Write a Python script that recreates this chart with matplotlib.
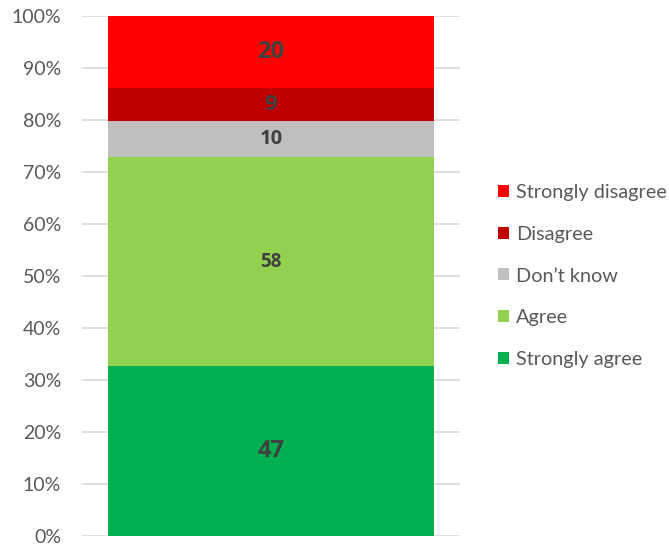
import matplotlib
matplotlib.use("Agg")
import matplotlib.pyplot as plt
from matplotlib.patches import Patch
from matplotlib.ticker import FuncFormatter

categories = ["Strongly agree", "Agree", "Don\u2019t know", "Disagree", "Strongly disagree"]
counts = [47, 58, 10, 9, 20]
colors = ["#00B050", "#92D050", "#BFBFBF", "#C00000", "#FF0000"]
label_sizes = [17, 13.5, 14.5, 16, 17]
tick_values = [0, 0.1, 0.2, 0.3, 0.4, 0.5, 0.6, 0.7, 0.8, 0.9, 1.0]

plt.rcParams["font.family"] = ["Lato", "DejaVu Sans"]

fig = plt.figure(figsize=(6.69, 5.46), dpi=100)
ax = fig.add_axes([82 / 669, 1 - 536 / 546, 378 / 669, 520 / 546])

total = sum(counts)
bottom = 0.0
for name, c, col, fs in zip(categories, counts, colors, label_sizes):
    h = c / total
    ax.bar(0, h, bottom=bottom, width=0.862, color=col, zorder=2)
    ax.text(0, bottom + h / 2, str(c), ha="center", va="center",
            fontsize=fs, fontweight="bold", family=["Open Sans", "DejaVu Sans"],
            color="#404040", zorder=3)
    bottom += h

ax.set_xlim(-0.5, 0.5)
ax.set_ylim(0, 1)
ax.set_yticks(tick_values)
ax.yaxis.set_major_formatter(FuncFormatter(lambda v, _: f"{v * 100:.0f}%"))
ax.set_xticks([])
ax.yaxis.grid(True, color="#D9D9D9", linewidth=1.2, zorder=0)
ax.tick_params(axis="y", length=0, pad=15, labelsize=14, labelcolor="#595959")
for s in ax.spines.values():
    s.set_visible(False)

handles = [Patch(facecolor=col, edgecolor="none", label=name)
           for name, col in zip(categories, colors)][::-1]
fig.legend(handles=handles, loc="center left", bbox_to_anchor=(490 / 669, 1 - 276 / 546),
           frameon=False, fontsize=14.3, labelcolor="#595959",
           handlelength=0.55, handleheight=0.55, handletextpad=0.35,
           labelspacing=1.24, borderaxespad=0)

fig.savefig("out.png", dpi=100)
